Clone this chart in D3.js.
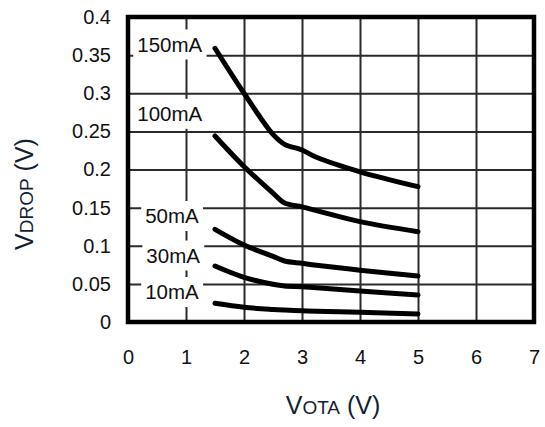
<!DOCTYPE html>
<html>
<head>
<meta charset="utf-8">
<script src="https://cdn.jsdelivr.net/npm/d3@7"></script>
<style>
  body { margin: 0; background: #fff; }
  svg { display: block; }
  text { font-family: "Liberation Sans", Arial, sans-serif; }
</style>
</head>
<body>
<svg id="chart"></svg>
<script>
// curve data (V_OTA in volts, V_DROP in volts)
const vota = [1.5, 2.0, 2.5, 2.7, 3.0, 3.25, 4.0, 5.0];
const drop150 = [0.359, 0.300, 0.246, 0.233, 0.2256, 0.2160, 0.197, 0.1775];
const drop100 = [0.244, 0.204, 0.169, 0.156, 0.151, 0.146, 0.1316, 0.1184];
const drop50 = [0.1215, 0.101, 0.086, 0.080, 0.077, 0.0745, 0.068, 0.0603];
const drop30 = [0.0734, 0.0586, 0.0495, 0.0472, 0.0463, 0.0448, 0.0407, 0.0354];
const drop10 = [0.0245, 0.0193, 0.0165, 0.0157, 0.0148, 0.0142, 0.0127, 0.0105];

const seriesNames = ['150mA', '100mA', '50mA', '30mA', '10mA'];
// where the curve labels sit (right edge x, centre y, in data units)
const labelX = [1.28, 1.28, 1.22, 1.24, 1.22];
const labelY = [0.364, 0.273, 0.139, 0.0872, 0.0393];

const xTicks = [0, 1, 2, 3, 4, 5, 6, 7];
const yTicks = [0, 0.05, 0.1, 0.15, 0.2, 0.25, 0.3, 0.35, 0.4];
const yTickLabels = ['0', '0.05', '0.1', '0.15', '0.2', '0.25', '0.3', '0.35', '0.4'];

const width = 545, height = 427;
const plot = { left: 128, right: 534, top: 17, bottom: 322 };

const svg = d3.select('#chart')
    .attr('width', width)
    .attr('height', height);

const scales = {
    x: d3.scaleLinear().domain([0, 7]).range([plot.left, plot.right]),
    y: d3.scaleLinear().domain([0, 0.4]).range([plot.bottom, plot.top])
};

// grid
const grid = svg.append('g').attr('class', 'grid');
grid.append('g')
    .attr('transform', `translate(0,${plot.bottom})`)
    .call(d3.axisBottom(scales.x).tickValues(xTicks).tickSize(-(plot.bottom - plot.top)).tickFormat(''))
    .call(g => g.select('.domain').remove())
    .call(g => g.selectAll('line').attr('stroke', '#2a2a2a').attr('stroke-width', 2));
grid.append('g')
    .attr('transform', `translate(${plot.left},0)`)
    .call(d3.axisLeft(scales.y).tickValues(yTicks).tickSize(-(plot.right - plot.left)).tickFormat(''))
    .call(g => g.select('.domain').remove())
    .call(g => g.selectAll('line').attr('stroke', '#2a2a2a').attr('stroke-width', 2));

// label backgrounds + labels
const labels = svg.append('g').attr('class', 'labels');
seriesNames.forEach((name, i) => {
    const t = labels.append('text')
        .attr('x', scales.x(labelX[i]))
        .attr('y', scales.y(labelY[i]))
        .attr('dy', '0.36em')
        .attr('text-anchor', 'end')
        .attr('font-size', 20.5)
        .attr('fill', '#111')
        .text(name);
    const bb = t.node().getBBox();
    labels.insert('rect', 'text')
        .attr('x', bb.x - 4)
        .attr('y', scales.y(labelY[i]) - 15)
        .attr('width', bb.width + 8)
        .attr('height', 30)
        .attr('fill', '#fff');
});

// curves
const series = [drop150, drop100, drop50, drop30, drop10];
const line = d3.line()
    .x((d, i) => scales.x(vota[i]))
    .y(d => scales.y(d))
    .curve(d3.curveCatmullRom.alpha(0.5));

svg.append('g')
    .attr('class', 'curves')
    .selectAll('path')
    .data(series)
    .join('path')
    .attr('d', line)
    .attr('fill', 'none')
    .attr('stroke', '#000')
    .attr('stroke-width', 5)
    .attr('stroke-linecap', 'round')
    .attr('stroke-linejoin', 'round');

// frame
svg.append('rect')
    .attr('x', plot.left)
    .attr('y', plot.top)
    .attr('width', plot.right - plot.left)
    .attr('height', plot.bottom - plot.top)
    .attr('fill', 'none')
    .attr('stroke', '#000')
    .attr('stroke-width', 4.5);

// tick labels
svg.append('g')
    .attr('transform', `translate(0,${plot.bottom})`)
    .call(d3.axisBottom(scales.x).tickValues(xTicks).tickSize(0).tickPadding(28).tickFormat(d3.format('d')))
    .call(g => g.select('.domain').remove())
    .call(g => g.selectAll('text')
        .attr('font-size', 20)
        .attr('font-family', '"Liberation Sans", Arial, sans-serif')
        .attr('fill', '#111'));

svg.append('g')
    .attr('transform', `translate(${plot.left},0)`)
    .call(d3.axisLeft(scales.y).tickValues(yTicks).tickSize(0).tickPadding(17)
        .tickFormat((d, i) => yTickLabels[i]))
    .call(g => g.select('.domain').remove())
    .call(g => g.selectAll('text')
        .attr('font-size', 20)
        .attr('font-family', '"Liberation Sans", Arial, sans-serif')
        .attr('fill', '#111'));

// axis titles
const xTitle = svg.append('text')
    .attr('x', 333)
    .attr('y', 414)
    .attr('text-anchor', 'middle')
    .attr('fill', '#141e30')
    .attr('font-size', 25);
xTitle.append('tspan').text('V');
xTitle.append('tspan').attr('font-size', 19).text('OTA');
xTitle.append('tspan').text(' (V)');

const yTitle = svg.append('text')
    .attr('transform', 'translate(33,194) rotate(-90)')
    .attr('text-anchor', 'middle')
    .attr('fill', '#141e30')
    .attr('font-size', 25);
yTitle.append('tspan').text('V');
yTitle.append('tspan').attr('font-size', 19).text('DROP');
yTitle.append('tspan').text(' (V)');
</script>
</body>
</html>
